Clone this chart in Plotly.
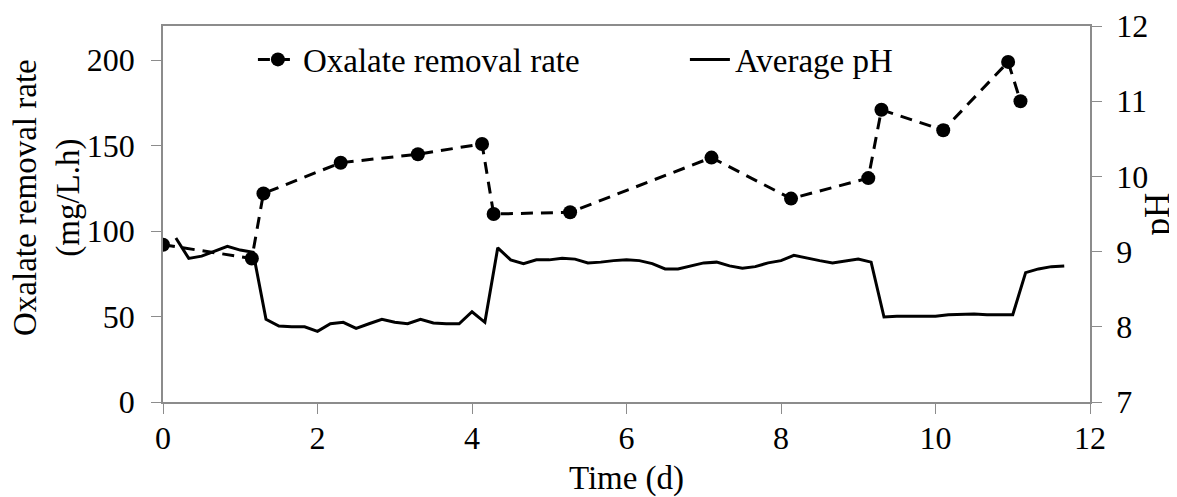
import plotly.graph_objects as go

# Oxalate removal rate (mg/L.h)
ox_time = [0, 1.15, 1.3, 2.3, 3.3, 4.13, 4.28, 5.27, 7.1, 8.13, 9.13, 9.3, 10.1, 10.94, 11.1]
ox_rate = [92, 84, 122, 140, 145, 151, 110, 111, 143, 119, 131, 171, 159, 199, 176]

# Average pH, sampled every 4 h (time in days = index/6)
ph_index = list(range(1, 71))
ph_values = [
    9.18, 8.91, 8.94, 9.01, 9.07, 9.02, 8.99, 8.10, 8.01, 8.00,
    8.00, 7.94, 8.04, 8.06, 7.98, 8.04, 8.10, 8.06, 8.04, 8.10,
    8.05, 8.04, 8.04, 8.20, 8.06, 9.05, 8.89, 8.84, 8.89, 8.89,
    8.91, 8.90, 8.85, 8.86, 8.88, 8.89, 8.88, 8.84, 8.77, 8.77,
    8.81, 8.85, 8.86, 8.81, 8.78, 8.80, 8.85, 8.88, 8.95, 8.91,
    8.88, 8.85, 8.88, 8.90, 8.86, 8.13, 8.14, 8.14, 8.13, 8.14,
    8.16, 8.17, 8.17, 8.16, 8.16, 8.16, 8.72, 8.77, 8.80, 8.81,
]
ph_time = [i / 6 for i in ph_index]

x_ticks = [0, 2, 4, 6, 8, 10, 12]
y1_ticks = [0, 50, 100, 150, 200]
y2_ticks = [7, 8, 9, 10, 11, 12]

FONT = "Liberation Serif"
AX = "#8c8c8c"
TICK_SIZE = 32

fig = go.Figure()
fig.add_trace(go.Scatter(
    x=ox_time, y=ox_rate, name="Oxalate removal rate", mode="lines+markers",
    line=dict(color="black", width=3, dash="12px,8px"),
    marker=dict(color="black", size=14), legend="legend", yaxis="y",
))
fig.add_trace(go.Scatter(
    x=ph_time, y=ph_values, name="Average pH", mode="lines",
    line=dict(color="black", width=3), legend="legend2", yaxis="y2",
))

# the page body has an 8px margin, so the figure is sized to fit the window
fig.update_layout(
    width=1169, height=489,
    margin=dict(l=155, r=87, t=18, b=95),
    paper_bgcolor="white", plot_bgcolor="white",
    font=dict(family=FONT, size=TICK_SIZE, color="black"),
    xaxis=dict(
        range=[0, 12], tickvals=x_ticks, showgrid=False, zeroline=False,
        showline=True, linecolor=AX, linewidth=1.5, mirror=True,
        ticks="outside", ticklen=10, tickcolor=AX, automargin=False,
        title=dict(text="Time (d)", font=dict(size=33), standoff=14),
        tickfont=dict(size=TICK_SIZE), ticklabelstandoff=-3,
    ),
    yaxis=dict(
        range=[0, 220], tickvals=y1_ticks, showgrid=False, zeroline=False,
        showline=True, linecolor=AX, linewidth=1.5,
        ticks="outside", ticklen=10, tickcolor=AX, automargin=False,
        tickfont=dict(size=TICK_SIZE), ticklabelstandoff=10,
    ),
    yaxis2=dict(
        range=[7, 12], tickvals=y2_ticks, overlaying="y", side="right",
        showgrid=False, zeroline=False,
        showline=True, linecolor=AX, linewidth=1.5,
        ticks="outside", ticklen=10, tickcolor=AX, automargin=False,
        title=dict(text="pH", font=dict(size=35), standoff=3),
        tickfont=dict(size=TICK_SIZE), ticklabelstandoff=8,
    ),
    legend=dict(x=0.097, y=0.911, xanchor="left", yanchor="middle",
                font=dict(size=33), bgcolor="rgba(0,0,0,0)", itemwidth=40),
    legend2=dict(x=0.563, y=0.911, xanchor="left", yanchor="middle",
                 font=dict(size=33), bgcolor="rgba(0,0,0,0)", itemwidth=40),
    showlegend=True,
    annotations=[dict(
        text="Oxalate removal rate<br>(mg/L.h)", textangle=-90,
        xref="paper", yref="paper", x=-0.125, y=0.543,
        xanchor="center", yanchor="middle", showarrow=False,
        font=dict(size=33, family=FONT, color="black"),
    )],
)

fig.write_html("out.html")
